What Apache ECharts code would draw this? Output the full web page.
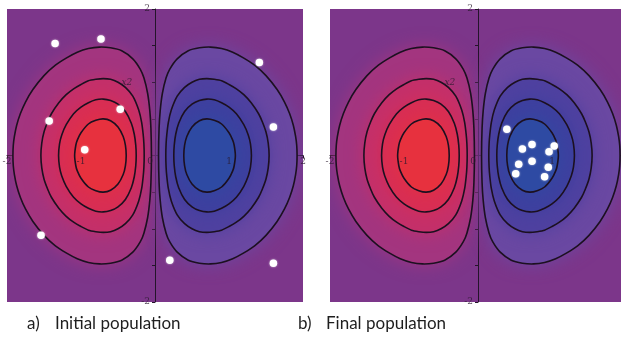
<!DOCTYPE html>
<html>
<head>
<meta charset="utf-8">
<script src="https://cdn.jsdelivr.net/npm/echarts@6/dist/echarts.min.js"></script>
<style>
  html, body { margin: 0; padding: 0; background: #ffffff; }
  #chart { width: 621px; height: 340px; }
</style>
</head>
<body>
<div id="chart"></div>
<script>
// Contour levels of the objective surface (the same magnitudes on both lobes)
const levels = [0.048, 0.143, 0.238, 0.334];

// Upper half of each contour of the negative (left) lobe, [x1, x2],
// traced from the crossing nearest the x2 axis to the outer crossing.
// The lower halves and the positive (right) lobe are mirror images.
const contourOuter = [
  [-0.048, 0], [-0.055, 0.37], [-0.07, 0.61], [-0.10, 0.85], [-0.15, 1.06],
  [-0.20, 1.18], [-0.30, 1.32], [-0.45, 1.43], [-0.60, 1.47], [-0.75, 1.48],
  [-0.90, 1.46], [-1.05, 1.41], [-1.20, 1.33], [-1.35, 1.23], [-1.50, 1.09],
  [-1.65, 0.90], [-1.75, 0.73], [-1.82, 0.57], [-1.87, 0.41], [-1.90, 0.26],
  [-1.915, 0.14], [-1.92, 0]
];
const contourSecond = [
  [-0.146, 0], [-0.15, 0.16], [-0.16, 0.29], [-0.18, 0.45], [-0.22, 0.62],
  [-0.30, 0.81], [-0.40, 0.93], [-0.50, 1.00], [-0.60, 1.04], [-0.70, 1.05],
  [-0.80, 1.04], [-0.90, 1.02], [-1.00, 0.97], [-1.10, 0.91], [-1.20, 0.83],
  [-1.30, 0.72], [-1.40, 0.57], [-1.45, 0.46], [-1.50, 0.32], [-1.53, 0.17],
  [-1.542, 0]
];
const contourThird = [
  [-0.254, 0], [-0.26, 0.14], [-0.28, 0.29], [-0.32, 0.44], [-0.40, 0.60],
  [-0.50, 0.70], [-0.60, 0.75], [-0.70, 0.77], [-0.80, 0.76], [-0.90, 0.72],
  [-1.00, 0.66], [-1.10, 0.57], [-1.20, 0.42], [-1.26, 0.28], [-1.29, 0.16],
  [-1.303, 0]
];
const contourInner = [
  [-0.389, 0], [-0.40, 0.14], [-0.43, 0.26], [-0.50, 0.39], [-0.60, 0.475],
  [-0.70, 0.50], [-0.80, 0.48], [-0.90, 0.43], [-1.00, 0.31], [-1.05, 0.21],
  [-1.07, 0.14], [-1.086, 0]
];

// Band colours, outermost band first
const negativeColors = ['#a3357f', '#c4306a', '#d82e54', '#e7313e'];
const positiveColors = ['#6a48a2', '#4f41a0', '#3e409f', '#2e4aa3'];
const backgroundColor = '#7c368a';

// Individuals, [x1, x2]
const initialPopulation = [
  [-1.35, 1.53], [-0.73, 1.59], [1.41, 1.27], [-0.47, 0.63], [-1.43, 0.47],
  [1.60, 0.39], [-0.95, 0.08], [-1.54, -1.09], [0.20, -1.43], [1.60, -1.47]
];
const finalPopulation = [
  [0.39, 0.36], [0.60, 0.09], [0.73, 0.15], [1.03, 0.13], [0.96, 0.05],
  [0.55, -0.12], [0.73, -0.08], [0.95, -0.16], [0.51, -0.25], [0.90, -0.29]
];

// Tick labels drawn along the axes through the origin
const xTickLabels = [-2, -1, 0, 1, 2];
const yTickLabels = [-2, 2];
const panelTags = ['a)', 'b)'];
const panelTitles = ['Initial population', 'Final population'];

// Closed curve from an upper half; sx = -1 mirrors to the positive lobe
function closedCurve(half, sx) {
  const up = half.map(p => [sx * p[0], p[1]]);
  const down = half.slice().reverse().slice(1, -1).map(p => [sx * p[0], -p[1]]);
  return up.concat(down);
}

const halves = [contourOuter, contourSecond, contourThird, contourInner];
const regions = [];
halves.forEach((h, i) => {
  regions.push({ pts: closedCurve(h, 1), color: negativeColors[i] });
  regions.push({ pts: closedCurve(h, -1), color: positiveColors[i] });
});

function fillSeries(axisIndex) {
  return {
    type: 'custom',
    xAxisIndex: axisIndex,
    yAxisIndex: axisIndex,
    clip: true,
    silent: true,
    z: 1,
    data: regions.map((r, i) => [i, 0]),
    renderItem: function (params, api) {
      const r = regions[params.dataIndex];
      return {
        type: 'polygon',
        shape: { points: r.pts.map(p => api.coord(p)), smooth: 0.25 },
        style: { fill: r.color, shadowBlur: 18, shadowColor: r.color, stroke: null }
      };
    }
  };
}

function lineSeries(axisIndex) {
  return {
    type: 'custom',
    xAxisIndex: axisIndex,
    yAxisIndex: axisIndex,
    clip: true,
    silent: true,
    z: 3,
    data: regions.map((r, i) => [i, 0]),
    renderItem: function (params, api) {
      const r = regions[params.dataIndex];
      return {
        type: 'polygon',
        shape: { points: r.pts.map(p => api.coord(p)), smooth: 0.25 },
        style: { fill: 'none', stroke: '#1c1020', lineWidth: 1.6 }
      };
    }
  };
}

function pointSeries(axisIndex, pts) {
  return {
    type: 'scatter',
    xAxisIndex: axisIndex,
    yAxisIndex: axisIndex,
    data: pts,
    symbolSize: 7.5,
    z: 5,
    itemStyle: { color: '#ffffff', opacity: 1, shadowBlur: 2, shadowColor: 'rgba(255,255,255,0.7)' }
  };
}

const tickFont = { fontSize: 9, color: '#2a1a2e', fontFamily: 'DejaVu Serif' };

function tickLabelSeries(axisIndex) {
  const xs = xTickLabels.map(v => ({
    value: [v, 0],
    label: Object.assign({
      show: true, position: 'bottom', distance: 2, formatter: String(v),
      offset: v === 0 ? [-5, 0] : [0, 0]
    }, tickFont)
  }));
  const ys = yTickLabels.map(v => ({
    value: [0, v],
    label: Object.assign({
      show: true, position: 'left', distance: 5, formatter: String(v)
    }, tickFont)
  }));
  const name = {
    value: [-0.38, 0.99],
    label: Object.assign({ show: true, position: 'inside', formatter: 'x2', fontStyle: 'italic' }, tickFont)
  };
  return {
    type: 'scatter',
    xAxisIndex: axisIndex,
    yAxisIndex: axisIndex,
    data: xs.concat(ys, [name]),
    symbolSize: 0,
    silent: true,
    clip: false,
    z: 4
  };
}

const gridLefts = [7, 330];
const grids = gridLefts.map(l => ({
  left: l, top: 9, width: 296, height: 293,
  containLabel: false, outerBoundsMode: 'none',
  backgroundColor: backgroundColor, show: true, borderWidth: 0
}));

const axisLineStyle = { color: '#24142a', width: 1 };

function valueAxis(i) {
  return {
    type: 'value', gridIndex: i, min: -2, max: 2, interval: 0.5,
    axisLine: { show: true, onZero: true, lineStyle: axisLineStyle },
    axisTick: { show: true, length: 3, lineStyle: axisLineStyle },
    splitLine: { show: false },
    axisLabel: { show: false }
  };
}

const captionStyle = { fontFamily: 'Lato', fontSize: 17, fill: '#1e1e1e' };

const chart = echarts.init(document.getElementById('chart'), null, { renderer: 'canvas' });
chart.setOption({
  animation: false,
  backgroundColor: '#ffffff',
  grid: grids,
  xAxis: gridLefts.map((l, i) => valueAxis(i)),
  yAxis: gridLefts.map((l, i) => valueAxis(i)),
  series: [
    fillSeries(0), lineSeries(0), tickLabelSeries(0), pointSeries(0, initialPopulation),
    fillSeries(1), lineSeries(1), tickLabelSeries(1), pointSeries(1, finalPopulation)
  ],
  graphic: [
    { type: 'text', left: 27, top: 315, style: Object.assign({ text: panelTags[0] }, captionStyle) },
    { type: 'text', left: 55, top: 315, style: Object.assign({ text: panelTitles[0] }, captionStyle) },
    { type: 'text', left: 298, top: 315, style: Object.assign({ text: panelTags[1] }, captionStyle) },
    { type: 'text', left: 326, top: 315, style: Object.assign({ text: panelTitles[1] }, captionStyle) }
  ]
});
</script>
</body>
</html>
